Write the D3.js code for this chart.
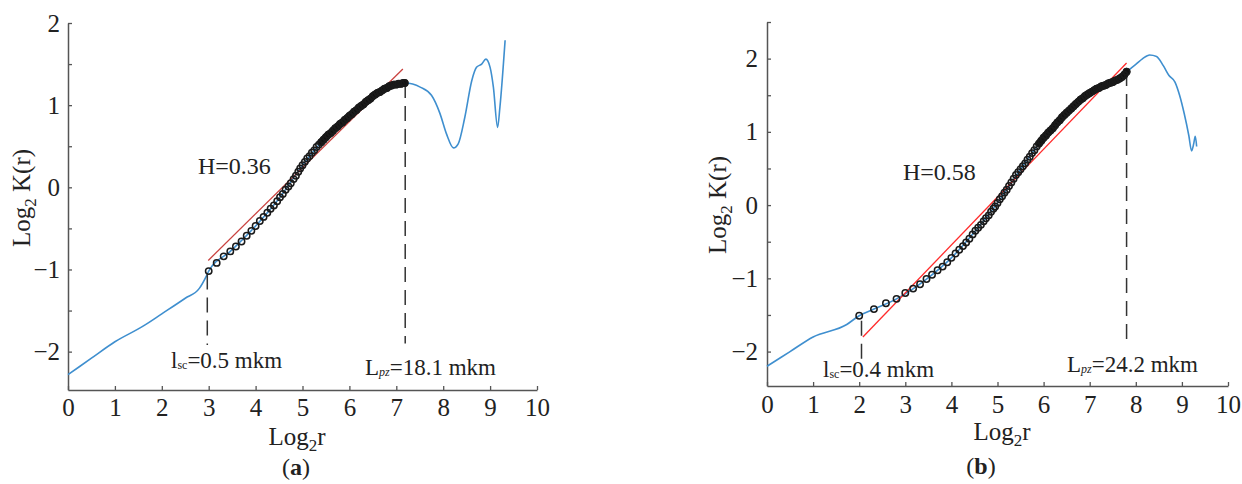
<!DOCTYPE html>
<html>
<head>
<meta charset="utf-8">
<script src="https://cdn.jsdelivr.net/npm/d3@7"></script>
<style>
  body { margin: 0; background: #fff; }
  svg { display: block; }
  text { font-family: "Times New Roman", "Liberation Serif", Times, serif; fill: #222; }
</style>
</head>
<body>
<svg width="1242" height="484"></svg>
<script>
// ---- data ----
const xTicks = [0, 1, 2, 3, 4, 5, 6, 7, 8, 9, 10];
const yTicksA = [-2, -1.5, -1, -0.5, 0, 0.5, 1, 1.5, 2];
const yTicksB = [-2, -1.5, -1, -0.5, 0, 0.5, 1, 1.5, 2, 2.5];

// panel (a): blue curve
const lineXA = [0, 0.5, 1, 1.6, 2, 2.5, 2.8, 2.95, 3.0, 3.46, 4.0, 4.52, 5.0, 5.5, 6.0, 6.5, 7.0, 7.19,
  7.51, 7.75, 7.93, 8.07, 8.22, 8.32, 8.46, 8.61, 8.71, 8.82, 8.91, 9.0, 9.07, 9.16, 9.21, 9.32];
const lineYA = [-2.28, -2.08, -1.88, -1.69, -1.54, -1.35, -1.23, -1.08, -1.02, -0.78, -0.47, -0.12, 0.27, 0.61, 0.87, 1.11, 1.25, 1.27,
  1.22, 1.12, 0.9, 0.65, 0.48, 0.53, 0.85, 1.3, 1.46, 1.5, 1.56, 1.46, 1.22, 0.73, 0.98, 1.79];
// panel (a): circle markers
const circXA = [3.00, 3.17, 3.32, 3.46, 3.58, 3.70, 3.81, 3.91, 4.00, 4.09, 4.17, 4.25, 4.32, 4.39, 4.46, 4.52,
  4.58, 4.64, 4.70, 4.75, 4.81, 4.86, 4.91, 4.95, 5.00, 5.05, 5.10, 5.15, 5.20, 5.25, 5.30, 5.35, 5.40, 5.45,
  5.50, 5.55, 5.60, 5.65, 5.70, 5.75, 5.80, 5.85, 5.90, 5.95, 6.00, 6.05, 6.10, 6.15, 6.20, 6.25, 6.30, 6.35,
  6.40, 6.45, 6.50, 6.55, 6.60, 6.65, 6.70, 6.75, 6.80, 6.85, 6.90, 6.95, 7.00, 7.05, 7.10, 7.15, 7.18];
const circYA = [-1.02, -0.92, -0.84, -0.78, -0.72, -0.66, -0.59, -0.53, -0.47, -0.41, -0.36, -0.31, -0.26, -0.22, -0.17, -0.12,
  -0.08, -0.03, 0.01, 0.05, 0.10, 0.14, 0.19, 0.23, 0.27, 0.31, 0.35, 0.38, 0.42, 0.45, 0.49, 0.52, 0.55, 0.58,
  0.61, 0.64, 0.66, 0.69, 0.72, 0.74, 0.77, 0.79, 0.82, 0.84, 0.87, 0.89, 0.92, 0.94, 0.97, 0.99, 1.01, 1.04,
  1.06, 1.08, 1.11, 1.13, 1.15, 1.16, 1.18, 1.20, 1.21, 1.23, 1.24, 1.25, 1.25, 1.26, 1.26, 1.27, 1.27];
const fitA = [[2.99, -0.89], [7.14, 1.44]];
const lscA = [2.97, -1.06, -1.92];
const lpzA = [7.19, 1.27, -1.90];

// panel (b): blue curve
const lineXB = [0, 0.5, 1, 1.73, 2.0, 2.32, 2.81, 3.46, 4.0, 4.55, 5.0, 5.5, 6.0, 6.5, 7.0, 7.5, 7.82,
  8.0, 8.15, 8.3, 8.45, 8.6, 8.72, 8.85, 8.95, 9.05, 9.15, 9.21, 9.26, 9.29, 9.32];
const lineYB = [-2.2, -2.0, -1.8, -1.63, -1.51, -1.42, -1.28, -1.01, -0.72, -0.33, 0.03, 0.49, 0.92, 1.26, 1.53, 1.68, 1.83,
  1.92, 2.0, 2.05, 2.03, 1.9, 1.77, 1.68, 1.5, 1.25, 0.95, 0.74, 0.85, 0.94, 0.8];
const circXB = [2.00, 2.32, 2.58, 2.81, 3.00, 3.17, 3.32, 3.46, 3.58, 3.70, 3.81, 3.91, 4.00, 4.09, 4.17, 4.25,
  4.32, 4.39, 4.46, 4.52, 4.58, 4.64, 4.70, 4.75, 4.81, 4.86, 4.91, 4.95, 5.00, 5.05, 5.10, 5.15, 5.20, 5.25,
  5.30, 5.35, 5.40, 5.45, 5.50, 5.55, 5.60, 5.65, 5.70, 5.75, 5.80, 5.85, 5.90, 5.95, 6.00, 6.05, 6.10, 6.15,
  6.20, 6.25, 6.30, 6.35, 6.40, 6.45, 6.50, 6.55, 6.60, 6.65, 6.70, 6.75, 6.80, 6.85, 6.90, 6.95, 7.00, 7.05,
  7.10, 7.15, 7.20, 7.25, 7.30, 7.35, 7.40, 7.45, 7.50, 7.55, 7.60, 7.65, 7.70, 7.75, 7.80];
const circYB = [-1.51, -1.42, -1.34, -1.28, -1.20, -1.14, -1.08, -1.01, -0.95, -0.89, -0.84, -0.78, -0.72, -0.66, -0.61, -0.56,
  -0.51, -0.46, -0.40, -0.35, -0.31, -0.27, -0.22, -0.18, -0.14, -0.09, -0.05, -0.02, 0.03, 0.08, 0.12, 0.17, 0.21, 0.26,
  0.31, 0.36, 0.41, 0.45, 0.49, 0.53, 0.57, 0.62, 0.66, 0.71, 0.75, 0.80, 0.84, 0.88, 0.92, 0.95, 0.99, 1.02,
  1.05, 1.09, 1.13, 1.16, 1.20, 1.23, 1.26, 1.29, 1.32, 1.35, 1.38, 1.41, 1.44, 1.46, 1.49, 1.51, 1.53, 1.55,
  1.57, 1.59, 1.60, 1.62, 1.63, 1.64, 1.66, 1.67, 1.68, 1.70, 1.71, 1.73, 1.75, 1.78, 1.82];
const fitB = [[2.08, -1.80], [7.80, 1.94]];
const lscB = [2.05, -1.58, -2.12];
const lpzB = [7.80, 1.83, -1.88];

const svg = d3.select("svg");

function drawPanel(p) {
  const x = d3.scaleLinear().domain([0, 10]).range(p.xr);
  const y = d3.scaleLinear().domain(p.yd).range(p.yr);
  const g = svg.append("g");

  const fmt = d => Number.isInteger(d) ? d3.format("d")(d) : "";

  const ax = g.append("g")
    .attr("transform", `translate(0,${p.yr[0]})`)
    .call(d3.axisBottom(x).tickValues(xTicks).tickFormat(fmt).tickSizeInner(-4).tickSizeOuter(0).tickPadding(p.pad));
  const ay = g.append("g")
    .attr("transform", `translate(${p.xr[0]},0)`)
    .call(d3.axisLeft(y).tickValues(p.yTicks).tickFormat(fmt).tickSizeInner(-4).tickSizeOuter(0).tickPadding(p.pad));
  [ax, ay].forEach(a => {
    a.select(".domain").attr("stroke", "#555").attr("stroke-width", 1.5);
    a.selectAll(".tick line").attr("stroke", "#555").attr("stroke-width", 1.3);
    a.selectAll("text").attr("font-size", 25).attr("font-family", null).attr("fill", "#222");
  });

  const line = d3.line().x(d => x(d[0])).y(d => y(d[1])).curve(d3.curveMonotoneX);

  g.append("path")
    .datum(p.lx.map((v, i) => [v, p.ly[i]]))
    .attr("d", line)
    .attr("fill", "none").attr("stroke", "#3f8fcf").attr("stroke-width", 1.6);

  // dashed guide lines
  [p.lsc, p.lpz].forEach(d => {
    g.append("line")
      .attr("x1", x(d[0])).attr("x2", x(d[0]))
      .attr("y1", y(d[1])).attr("y2", y(d[2]))
      .attr("stroke", "#333").attr("stroke-width", 1.5).attr("stroke-dasharray", "15,8");
  });

  g.append("line")
    .attr("x1", x(p.fit[0][0])).attr("y1", y(p.fit[0][1]))
    .attr("x2", x(p.fit[1][0])).attr("y2", y(p.fit[1][1]))
    .attr("stroke", p.red).attr("stroke-width", 1.3);

  const pts = p.cx.map((v, i) => [v, p.cy[i]]);

  // where the markers crowd together they merge into a solid dark band
  g.append("path")
    .datum(pts.filter(d => d[0] >= p.solid))
    .attr("d", line)
    .attr("fill", "none").attr("stroke", "#111").attr("stroke-width", 7.5)
    .attr("stroke-linecap", "round");

  g.selectAll("circle.m")
    .data(pts)
    .join("circle")
    .attr("class", "m")
    .attr("cx", d => x(d[0])).attr("cy", d => y(d[1]))
    .attr("r", 3.2)
    .attr("fill", "none").attr("stroke", "#1a1a1a").attr("stroke-width", 1.5);

  // axis titles
  const yl = g.append("text")
    .attr("transform", `translate(${p.ylab[0]},${p.ylab[1]}) rotate(-90)`)
    .attr("text-anchor", "middle").attr("font-size", 25);
  yl.append("tspan").text("Log");
  yl.append("tspan").attr("font-size", 17).attr("dy", 6).text("2");
  yl.append("tspan").attr("dy", -6).text(" K(r)");

  const xl = g.append("text")
    .attr("x", p.xlab[0]).attr("y", p.xlab[1])
    .attr("text-anchor", "middle").attr("font-size", 25);
  xl.append("tspan").text("Log");
  xl.append("tspan").attr("font-size", 17).attr("dy", 6).text("2");
  xl.append("tspan").attr("dy", -6).text("r");

  g.append("text").attr("x", p.h[0]).attr("y", p.h[1]).attr("font-size", 24).text(p.hText);

  const t1 = g.append("text").attr("x", p.t1[0]).attr("y", p.t1[1]).attr("font-size", 23);
  t1.append("tspan").text("l");
  t1.append("tspan").attr("font-size", 12).attr("dy", 1).text("sc");
  t1.append("tspan").attr("dy", -1).text(p.t1Text);

  const t2 = g.append("text").attr("x", p.t2[0]).attr("y", p.t2[1]).attr("font-size", 23);
  t2.append("tspan").text("L");
  t2.append("tspan").attr("font-size", 12).attr("dy", 1).attr("font-style", "italic").text("pz");
  t2.append("tspan").attr("dy", -1).text(p.t2Text);

  const cap = g.append("text").attr("x", p.cap[0]).attr("y", p.cap[1])
    .attr("text-anchor", "middle").attr("font-size", 24);
  cap.append("tspan").text("(");
  cap.append("tspan").attr("font-weight", "bold").text(p.capText);
  cap.append("tspan").text(")");
}

drawPanel({
  xr: [68, 537], yd: [-2.467, 2], yr: [390, 23], pad: 8, yTicks: yTicksA, solid: 5.4,
  lx: lineXA, ly: lineYA, cx: circXA, cy: circYA, fit: fitA, lsc: lscA, lpz: lpzA, red: "#c9423f",
  ylab: [30, 198], xlab: [297, 445], h: [198, 174], hText: "H=0.36",
  t1: [171, 368], t1Text: "=0.5  mkm", t2: [365, 375], t2Text: "=18.1 mkm",
  cap: [296, 475], capText: "a"
});

drawPanel({
  xr: [767, 1228], yd: [-2.47, 2.5], yr: [386, 22], pad: 9, yTicks: yTicksB, solid: 5.9,
  lx: lineXB, ly: lineYB, cx: circXB, cy: circYB, fit: fitB, lsc: lscB, lpz: lpzB, red: "#ff2b2b",
  ylab: [726, 205], xlab: [1002, 440], h: [903, 180], hText: "H=0.58",
  t1: [823, 377], t1Text: "=0.4 mkm", t2: [1067, 372], t2Text: "=24.2 mkm",
  cap: [981, 474], capText: "b"
});
</script>
</body>
</html>
